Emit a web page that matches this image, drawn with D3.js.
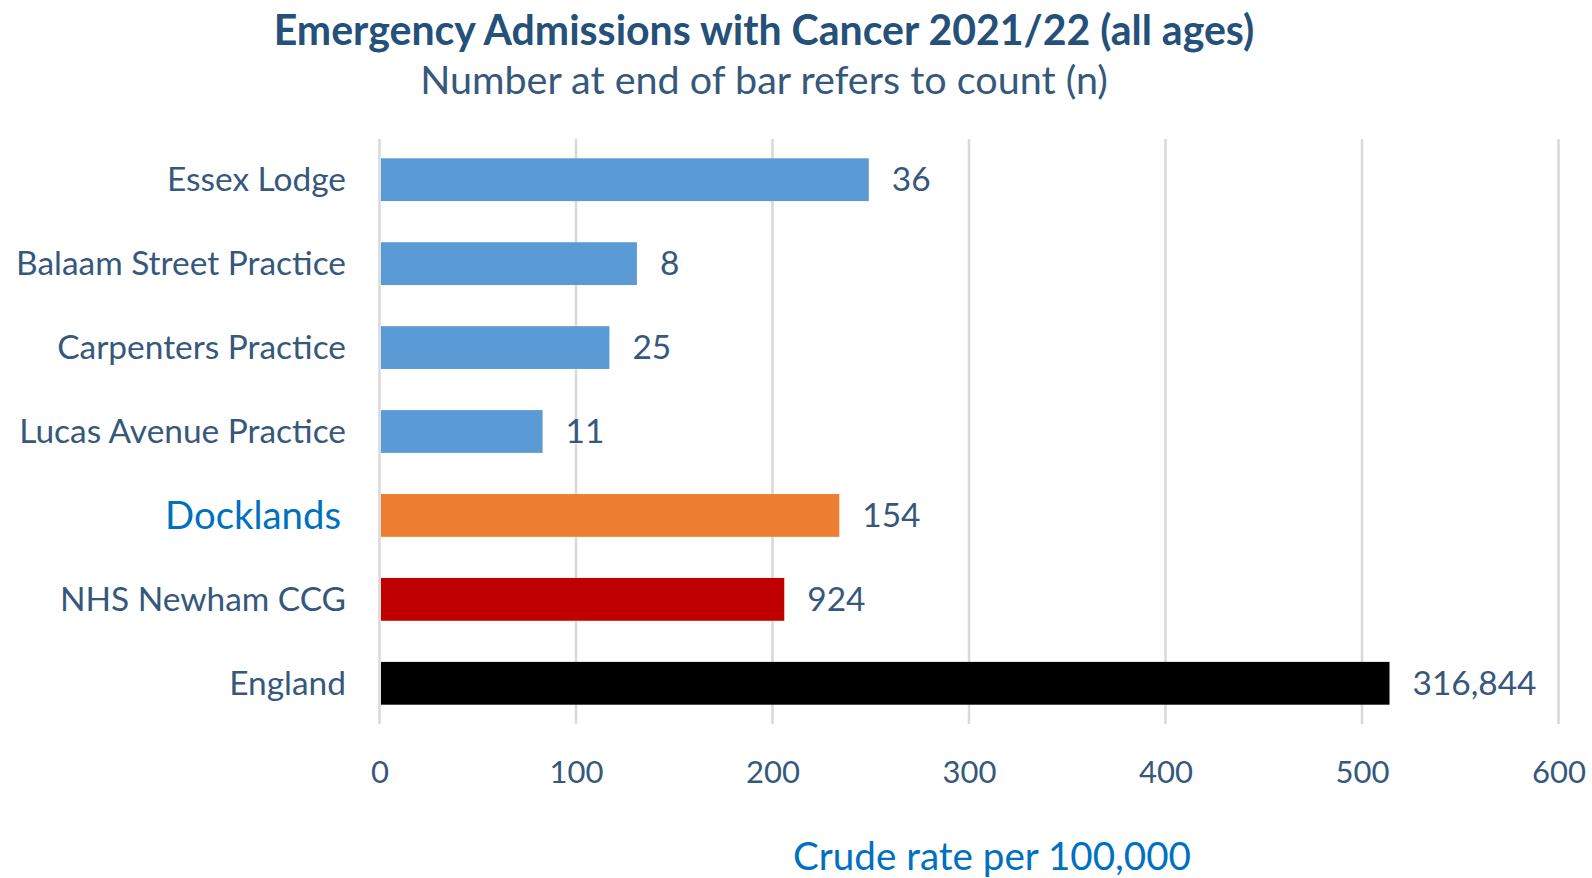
<!DOCTYPE html>
<html>
<head>
<meta charset="utf-8">
<script src="https://cdn.jsdelivr.net/npm/d3@7"></script>
<style>
  html, body { margin: 0; padding: 0; background: #ffffff; }
  svg { display: block; font-family: Lato, "Open Sans", sans-serif; }
</style>
</head>
<body>
<svg id="chart" width="1592" height="878"></svg>
<script>
const categories = ["Essex Lodge", "Balaam Street Practice", "Carpenters Practice", "Lucas Avenue Practice", "Docklands", "NHS Newham CCG", "England"];
const rates = [249, 131, 117, 83, 234, 206, 514];
const counts = ["36", "8", "25", "11", "154", "924", "316,844"];
const barColors = ["#5b9bd5", "#5b9bd5", "#5b9bd5", "#5b9bd5", "#ed7d31", "#c00000", "#000000"];
const xTicks = [0, 100, 200, 300, 400, 500, 600];
const titleText = "Emergency Admissions with Cancer 2021/22 (all ages)";
const subtitleText = "Number at end of bar refers to count (n)";
const xTitleText = "Crude rate per 100,000";

const data = categories.map((c, i) => ({ cat: c, rate: rates[i], count: counts[i], color: barColors[i] }));

const svg = d3.select("#chart");
const textColor = "#35587c";

const x = d3.scaleLinear().domain([0, 600]).range([379.5, 1558.5]);
const y = d3.scaleBand().domain(categories).range([139, 724]).paddingInner(0.49).paddingOuter(0.23);

function fitWidth(sel, target) {
  const node = sel.node();
  const w = node.getComputedTextLength();
  const fs = parseFloat(sel.attr("font-size"));
  sel.attr("font-size", fs * target / w);
}

// gridlines
svg.append("g").selectAll("line").data(xTicks).join("line")
  .attr("x1", d => x(d)).attr("x2", d => x(d))
  .attr("y1", 139).attr("y2", 724)
  .attr("stroke", "#d9d9d9").attr("stroke-width", 2.5);

// bars
svg.append("g").selectAll("rect").data(data).join("rect")
  .attr("x", x(0) + 1.5)
  .attr("y", d => y(d.cat))
  .attr("width", d => x(d.rate) - x(0) - 1.5)
  .attr("height", y.bandwidth())
  .attr("fill", d => d.color);

// category labels
const catLabels = svg.append("g").selectAll("text").data(data).join("text")
  .attr("x", d => d.cat === "Docklands" ? 341 : 346)
  .attr("y", d => y(d.cat) + y.bandwidth() / 2)
  .attr("dy", "0.35em")
  .attr("text-anchor", "end")
  .attr("font-size", 30)
  .attr("fill", d => d.cat === "Docklands" ? "#0070c0" : textColor)
  .text(d => d.cat);

// scale regular category labels from reference label width
{
  const ref = catLabels.filter(d => d.cat === "Balaam Street Practice");
  const w = ref.node().getComputedTextLength();
  const fs = 30 * 330 / w;
  catLabels.filter(d => d.cat !== "Docklands").attr("font-size", fs);
  const dock = catLabels.filter(d => d.cat === "Docklands");
  fitWidth(dock, 176);
}

// value labels
const valLabels = svg.append("g").selectAll("text").data(data).join("text")
  .attr("x", d => x(d.rate) + 23)
  .attr("y", d => y(d.cat) + y.bandwidth() / 2)
  .attr("dy", "0.35em")
  .attr("font-size", 30)
  .attr("fill", textColor)
  .text(d => d.count);
{
  const ref = valLabels.filter(d => d.cat === "England");
  const w = ref.node().getComputedTextLength();
  valLabels.attr("font-size", 30 * 124 / w);
}

// x axis tick labels
const xAxis = d3.axisBottom(x).tickValues(xTicks).tickSize(0).tickPadding(0).tickFormat(d3.format("d"));
const axG = svg.append("g").attr("transform", "translate(0,772)").call(xAxis);
axG.select(".domain").remove();
axG.selectAll("text")
  .attr("dy", "0.35em").attr("y", 0)
  .attr("font-size", 30)
  .attr("font-family", "Lato, 'Open Sans', sans-serif")
  .attr("fill", textColor);
{
  const ref = axG.selectAll("text").filter(d => d === 100);
  const w = ref.node().getComputedTextLength();
  axG.selectAll("text").attr("font-size", 30 * 54 / w);
}

// title
const title = svg.append("text")
  .attr("x", 764).attr("y", 45)
  .attr("text-anchor", "middle")
  .attr("font-size", 36).attr("font-weight", 700)
  .attr("fill", "#24507a")
  .text(titleText);
fitWidth(title, 981);

const subtitle = svg.append("text")
  .attr("x", 764).attr("y", 94)
  .attr("text-anchor", "middle")
  .attr("font-size", 32)
  .attr("fill", "#35587c")
  .text(subtitleText);
fitWidth(subtitle, 688);

const xTitle = svg.append("text")
  .attr("x", 992).attr("y", 870)
  .attr("text-anchor", "middle")
  .attr("font-size", 34)
  .attr("fill", "#0070c0")
  .text(xTitleText);
fitWidth(xTitle, 398);
</script>
</body>
</html>
